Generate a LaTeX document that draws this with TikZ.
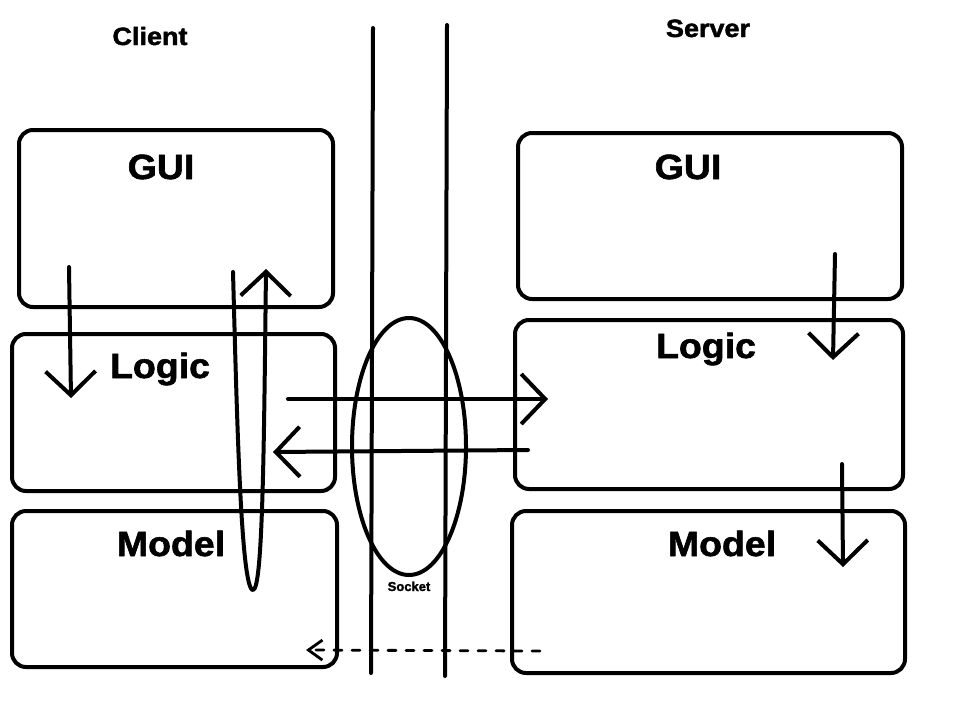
\documentclass[tikz,border=0pt]{standalone}
\usepackage{fontspec}
\setmainfont{Liberation Sans}
\newfontfamily\heavyfont[BoldFeatures={FakeBold=1.6}]{Liberation Sans}
\usetikzlibrary{arrows.meta,shapes.geometric}
\begin{document}
\begin{tikzpicture}[x=1pt,y=-1pt,
  line width=4pt, line cap=round, line join=round,
  layer/.style={draw, rounded corners=14pt, inner sep=0, line width=4pt},
  big/.style={font=\fontsize{35}{40}\heavyfont\bfseries, anchor=base, inner sep=0, xscale=1.07},
  head/.style={font=\fontsize{25}{28}\heavyfont\bfseries, anchor=base, inner sep=0, xscale=1.08},
  small/.style={font=\fontsize{13}{15}\heavyfont\bfseries, anchor=base, inner sep=0},
  flow/.style={-{Straight Barb[length=24pt,width=50pt,line width=4pt]}},
  back/.style={dashed, dash pattern=on 8pt off 10pt, line width=2.8pt}]
\useasboundingbox (0,0) rectangle (960,720);
\fill[white] (0,0) rectangle (960,720);
% boxes
\node[layer, minimum width=314pt, minimum height=177pt] (cgui) at (176,218.5) {};
\node[layer, minimum width=323pt, minimum height=157pt] (clogic) at (173.5,412.5) {};
\node[layer, minimum width=325pt, minimum height=156pt] (cmodel) at (174.5,589) {};
\node[layer, minimum width=384pt, minimum height=166pt] (sgui) at (710,216) {};
\node[layer, minimum width=388pt, minimum height=169pt] (slogic) at (709,404.5) {};
\node[layer, minimum width=393pt, minimum height=162pt] (smodel) at (708.5,592) {};
% labels
\node[head] (lclient) at (150,45) {Client};
\node[head] (lserver) at (708,37) {Server};
\node[big] (tcgui) at (161,179) {GUI};
\node[big] (tclogic) at (160,378) {Logic};
\node[big] (tcmodel) at (171,556) {Model};
\node[big] (tsgui) at (688,179) {GUI};
\node[big] (tslogic) at (706,358) {Logic};
\node[big] (tsmodel) at (722,556) {Model};
% network lines and socket
\coordinate (l1t) at (373,28); \coordinate (l1b) at (371,673);
\coordinate (l2t) at (447,25); \coordinate (l2b) at (445,676);
\draw (l1t) -- (l1b);
\draw (l2t) -- (l2b);
\node[draw, ellipse, minimum width=114pt, minimum height=257pt, inner sep=0, line width=4pt] (sock) at (409,446.5) {};
\node[small] (lsock) at (409,591) {Socket};
% client arrows
\coordinate (a1s) at (69,267); \coordinate (a1e) at (71,398);
\draw[flow] (a1s) -- (a1e);
\coordinate (lp1) at (233,272); \coordinate (lpb) at (253,590); \coordinate (lp2) at (266,269);
\draw[flow] (lp1) .. controls (237,420) and (241,590) .. (lpb)
  .. controls (263,590) and (264,440) .. (lp2);
% socket arrows
\coordinate (r1s) at (288,399); \coordinate (r1e) at (548,399);
\draw[flow] (r1s) -- (r1e);
\coordinate (r2s) at (528,450); \coordinate (r2e) at (273,452);
\draw[flow] (r2s) -- (r2e);
% server arrows
\coordinate (s1s) at (835,254); \coordinate (s1e) at (833,360);
\draw[flow] (s1s) -- (s1e);
\coordinate (s2s) at (842,464); \coordinate (s2e) at (843,567);
\draw[flow] (s2s) -- (s2e);
% dashed return
\coordinate (ds) at (540,651); \coordinate (de) at (306,650);
\draw[back, -{Straight Barb[length=14pt,width=20pt,line width=2.8pt]}] (ds) -- (de);
\end{tikzpicture}
\end{document}
